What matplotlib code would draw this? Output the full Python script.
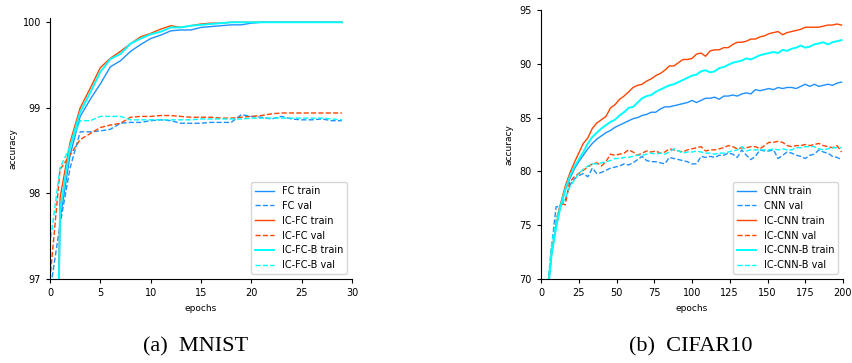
import matplotlib
matplotlib.use("Agg")
import matplotlib.pyplot as plt

# ---- MNIST (epochs 0..29)
mnist_epochs = list(range(30))
fc_train = [90.7, 97.7, 98.45, 98.9, 99.1, 99.28, 99.48, 99.55, 99.66, 99.74,
            99.81, 99.85, 99.9, 99.91, 99.91, 99.94, 99.95, 99.96, 99.97, 99.97,
            99.99, 100, 100, 100, 100, 100, 100, 100, 100, 100]
fc_val = [96.85, 97.64, 98.3, 98.72, 98.72, 98.73, 98.75, 98.82, 98.83, 98.83,
          98.85, 98.86, 98.85, 98.82, 98.82, 98.82, 98.83, 98.83, 98.83, 98.92,
          98.9, 98.89, 98.87, 98.9, 98.87, 98.86, 98.86, 98.87, 98.85, 98.85]
icfc_train = [90.7, 97.95, 98.6, 99.0, 99.23, 99.47, 99.58, 99.66, 99.75, 99.83,
              99.87, 99.92, 99.96, 99.94, 99.96, 99.98, 99.99, 99.99, 100, 100,
              100, 100, 100, 100, 100, 100, 100, 100, 100, 100]
icfc_val = [97.0, 98.28, 98.45, 98.63, 98.7, 98.77, 98.8, 98.82, 98.89, 98.9,
            98.9, 98.91, 98.91, 98.9, 98.89, 98.89, 98.89, 98.88, 98.88, 98.89,
            98.9, 98.91, 98.93, 98.94, 98.94, 98.94, 98.94, 98.94, 98.94, 98.94]
icfcb_train = [90.7, 97.8, 98.55, 98.95, 99.18, 99.42, 99.57, 99.63, 99.75, 99.81,
               99.86, 99.89, 99.94, 99.94, 99.96, 99.97, 99.98, 99.99, 100, 100,
               100, 100, 100, 100, 100, 100, 100, 100, 100, 100]
icfcb_val = [97.4, 98.3, 98.55, 98.85, 98.85, 98.9, 98.9, 98.9, 98.86, 98.86,
             98.86, 98.86, 98.86, 98.86, 98.86, 98.87, 98.87, 98.87, 98.87, 98.87,
             98.88, 98.88, 98.88, 98.88, 98.88, 98.88, 98.88, 98.88, 98.87, 98.86]

# ---- CIFAR10 (every 3rd epoch, 1..199)
cifar_epochs = list(range(1, 200, 3))
cnn_train = [55, 68, 72.3, 74.8, 76.8, 78.2, 79.3, 80.2, 80.9, 81.5,
             82.1, 82.6, 83.0, 83.3, 83.6, 83.8, 84.1, 84.3, 84.5, 84.7,
             84.9, 85.0, 85.2, 85.3, 85.5, 85.5, 85.8, 86.0, 86.0, 86.1,
             86.2, 86.3, 86.4, 86.6, 86.4, 86.6, 86.8, 86.8, 86.9, 86.7,
             87.0, 87.0, 87.1, 87.0, 87.2, 87.3, 87.2, 87.6, 87.5, 87.6,
             87.7, 87.6, 87.8, 87.7, 87.8, 87.8, 87.7, 87.9, 88.1, 87.9,
             88.1, 87.9, 88.0, 88.1, 88.0, 88.2, 88.3]
cnn_val = [55, 68.5, 73, 76.7, 76.8, 77.3, 78.7, 79.3, 79.6, 79.8,
           79.5, 80.3, 79.8, 79.9, 80.1, 80.3, 80.4, 80.5, 80.7, 80.6,
           80.8, 81.1, 81.4, 81.0, 80.9, 80.9, 80.8, 80.7, 81.3, 81.2,
           81.1, 81.0, 80.9, 80.7, 80.7, 81.4, 81.3, 81.4, 81.3, 81.5,
           81.5, 81.7, 81.6, 81.3, 82.0, 81.5, 81.1, 81.4, 82.0, 81.9,
           81.9, 82.0, 81.2, 81.5, 81.8, 81.7, 81.5, 81.4, 81.2, 81.5,
           81.6, 82.0, 81.8, 81.7, 81.4, 81.3, 81.1]
iccnn_train = [55, 68, 72.5, 75.0, 77.0, 78.6, 79.8, 80.8, 81.7, 82.6,
               83.1, 84.0, 84.5, 84.8, 85.1, 85.9, 86.2, 86.7, 87.0, 87.4,
               87.8, 88.0, 88.1, 88.4, 88.6, 88.9, 89.1, 89.4, 89.8, 89.8,
               90.1, 90.4, 90.4, 90.5, 90.9, 91.0, 90.7, 91.2, 91.3, 91.3,
               91.5, 91.5, 91.8, 92.0, 92.0, 92.1, 92.3, 92.3, 92.5, 92.6,
               92.8, 92.9, 93.0, 92.7, 92.9, 93.0, 93.1, 93.2, 93.4, 93.4,
               93.4, 93.4, 93.5, 93.6, 93.6, 93.7, 93.6]
iccnn_val = [55, 68, 72.8, 75.5, 77.0, 76.9, 79.0, 79.5, 79.8, 80.1,
             80.4, 80.7, 80.8, 80.5, 80.9, 81.6, 81.5, 81.6, 81.7, 82.0,
             81.8, 81.5, 81.7, 81.9, 81.8, 81.9, 81.7, 81.8, 82.1, 82.0,
             81.9, 81.8, 82.0, 82.1, 82.2, 82.3, 81.9, 82.0, 82.0, 82.1,
             82.2, 82.4, 82.3, 82.1, 82.2, 82.2, 82.3, 82.3, 82.1, 82.4,
             82.7, 82.7, 82.8, 82.7, 82.4, 82.3, 82.4, 82.4, 82.5, 82.4,
             82.5, 82.6, 82.4, 82.3, 82.2, 82.4, 81.8]
iccnnb_train = [55, 68, 72.3, 74.8, 76.8, 78.3, 79.5, 80.4, 81.1, 81.8,
                82.6, 83.2, 83.6, 84.0, 84.3, 84.6, 84.8, 85.2, 85.5, 85.9,
                86.0, 86.4, 86.8, 87.0, 87.1, 87.4, 87.6, 87.8, 88.0, 88.1,
                88.3, 88.5, 88.7, 88.9, 89.0, 89.3, 89.4, 89.2, 89.3, 89.6,
                89.7, 89.9, 90.1, 90.2, 90.3, 90.5, 90.4, 90.6, 90.8, 90.9,
                91.0, 91.1, 91.0, 91.3, 91.2, 91.4, 91.5, 91.7, 91.5, 91.6,
                91.8, 91.9, 92.0, 91.8, 92.0, 92.1, 92.2]
iccnnb_val = [55, 68.5, 73.2, 75.5, 76.8, 77.5, 78.5, 79.2, 79.8, 80.2,
              80.5, 80.7, 80.7, 80.8, 80.9, 81.0, 81.2, 81.2, 81.3, 81.3,
              81.4, 81.5, 81.5, 81.6, 81.7, 81.6, 81.7, 81.6, 81.8, 82.1,
              81.9, 81.7, 81.8, 81.8, 81.9, 81.8, 81.7, 81.7, 81.6, 81.7,
              81.7, 81.8, 81.9, 82.0, 82.3, 81.9, 82.0, 82.0, 82.0, 82.0,
              82.0, 82.1, 82.0, 82.1, 82.0, 82.0, 82.2, 82.2, 82.3, 82.3,
              82.3, 82.1, 82.0, 82.1, 82.2, 82.2, 82.2]

blue = "#1E90FF"
orange = "#FF4500"
cyan = "#00FFFF"

fig = plt.figure(figsize=(8.52, 3.63), dpi=100)
ax1 = fig.add_axes([50/852, 1-279/363, 302/852, 261/363])
ax2 = fig.add_axes([541/852, 1-279/363, 302/852, 269/363])

def draw(ax, x, series, names):
    cols = [blue, blue, orange, orange, cyan, cyan]
    for i, (y, name) in enumerate(zip(series, names)):
        ls = "-" if i % 2 == 0 else "--"
        lw = 1.4 if i == 4 else 1.0
        ax.plot(x, y, ls, color=cols[i], lw=lw, label=name)
    ax.spines["top"].set_visible(False)
    ax.spines["right"].set_visible(False)
    ax.tick_params(labelsize=7, length=3, width=0.8)
    ax.set_xlabel("epochs", fontsize=6.5)
    ax.set_ylabel("accuracy", fontsize=6.5)
    ax.legend(loc="lower right", fontsize=7)

draw(ax1, mnist_epochs,
     [fc_train, fc_val, icfc_train, icfc_val, icfcb_train, icfcb_val],
     ["FC train", "FC val", "IC-FC train", "IC-FC val", "IC-FC-B train", "IC-FC-B val"])
ax1.set_xlim(0, 30)
ax1.set_ylim(97, 100.05)
ax1.set_yticks([97, 98, 99, 100])

draw(ax2, cifar_epochs,
     [cnn_train, cnn_val, iccnn_train, iccnn_val, iccnnb_train, iccnnb_val],
     ["CNN train", "CNN val", "IC-CNN train", "IC-CNN val", "IC-CNN-B train", "IC-CNN-B val"])
ax2.set_xlim(0, 200)
ax2.set_ylim(70, 95)

fig.text(196/852, 0.044, "(a)  MNIST", ha="center", va="center",
         family="Liberation Serif", fontsize=16)
fig.text(691/852, 0.044, "(b)  CIFAR10", ha="center", va="center",
         family="Liberation Serif", fontsize=16)

fig.savefig("out.png", dpi=100)
